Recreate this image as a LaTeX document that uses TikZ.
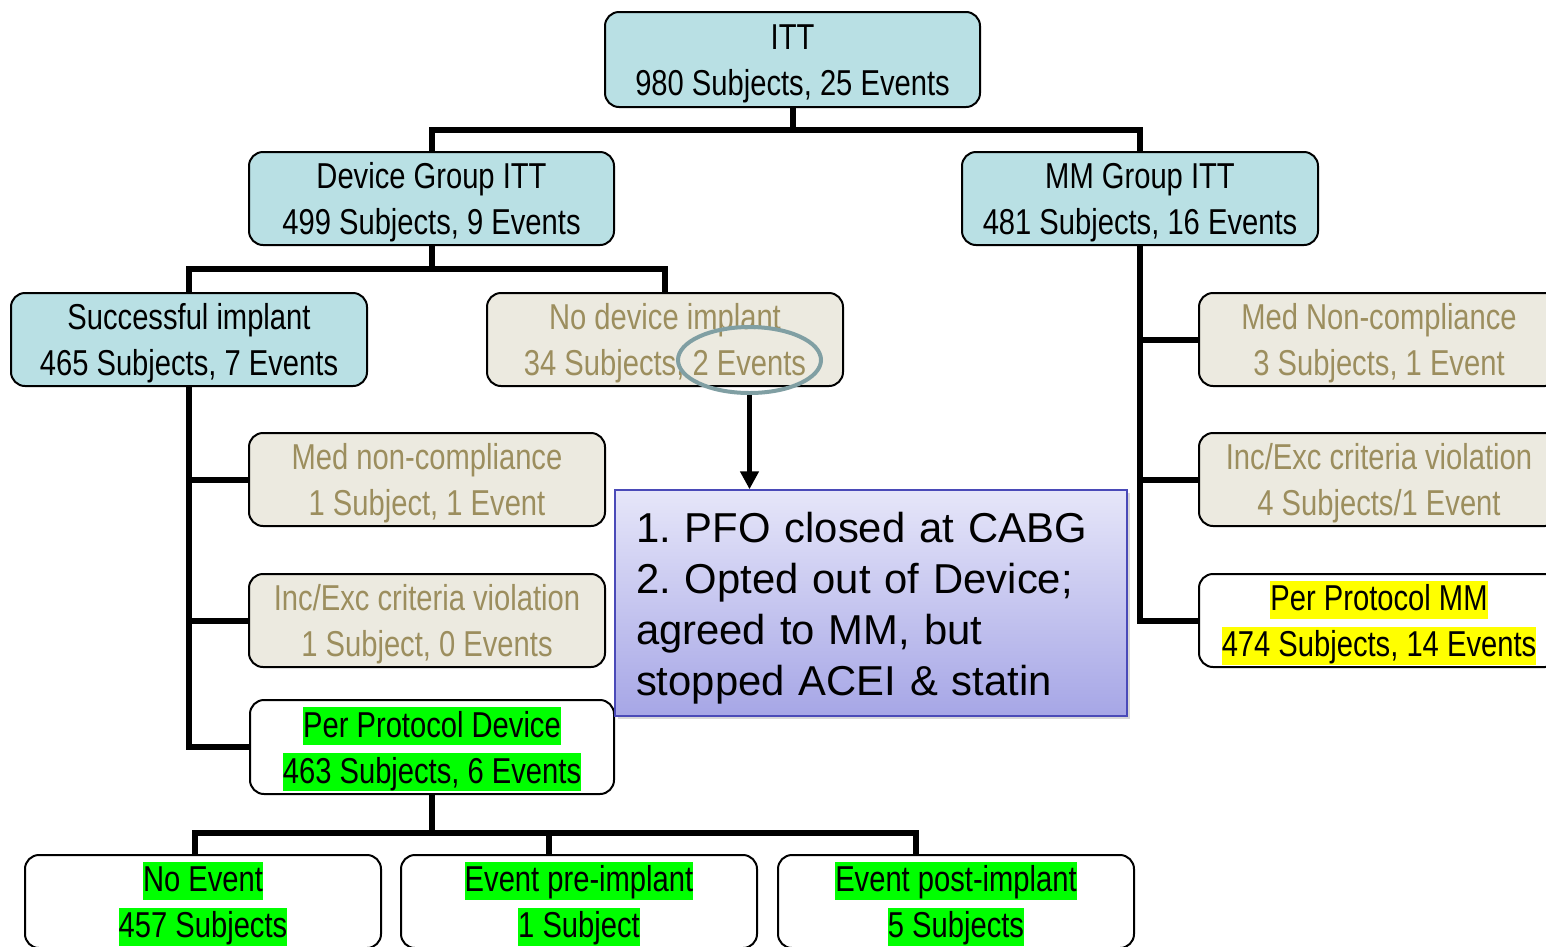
\documentclass[tikz,border=0pt]{standalone}
\usepackage{fontspec}
\setmainfont{Liberation Sans}
\newfontfamily\nar[FakeStretch=0.81]{Liberation Sans}
\usetikzlibrary{shapes.geometric,arrows.meta,shadows}
\definecolor{tealc}{HTML}{B9E0E4}
\definecolor{beigec}{HTML}{ECEAE0}
\definecolor{olivec}{HTML}{9C8E5E}
\definecolor{ellc}{HTML}{809FA3}
\definecolor{bluebd}{HTML}{4A4AB8}
\definecolor{bluetop}{HTML}{E6E6F9}
\definecolor{bluebot}{HTML}{A6A6E6}
\definecolor{hlgreen}{HTML}{00FF00}
\definecolor{hlyellow}{HTML}{FFFF00}
\newcommand\st{\rule[-8pt]{0pt}{42pt}}
\newcommand\hlg[1]{\st{\fboxsep=0pt\colorbox{hlgreen}{\rule[-8pt]{0pt}{38pt}#1}}}
\newcommand\hly[1]{\st{\fboxsep=0pt\colorbox{hlyellow}{\rule[-8pt]{0pt}{38pt}#1}}}
\tikzset{
  boxbase/.style={draw=black, line width=2pt, rounded corners=14pt, inner sep=0pt,
    align=center, font=\nar\fontsize{36}{46}\selectfont,
    minimum width=356pt, minimum height=93pt},
  tealbox/.style={boxbase, fill=tealc},
  beigebox/.style={boxbase, fill=beigec, text=olivec},
  whitebox/.style={boxbase, fill=white},
  conn/.style={draw=black, line width=6pt},
  arr/.style={draw=black, line width=5pt, -{Triangle[length=18pt,width=18pt]}},
}
\begin{document}
\begin{tikzpicture}[x=1pt,y=-1pt]
\clip (0,0) rectangle (1546,946);
\fill[white] (0,0) rectangle (1546,946);

% boxes
\node[tealbox, minimum width=375pt, minimum height=95pt] (itt) at (792.5,59.5) {\st ITT\\\st 980 Subjects, 25 Events};
\node[tealbox, minimum width=365pt] (dev) at (431.5,198.5) {\st Device Group ITT\\\st 499 Subjects, 9 Events};
\node[tealbox] (mm) at (1140,198.5) {\st MM Group ITT\\\st 481 Subjects, 16 Events};
\node[tealbox] (succ) at (189,339.5) {\st Successful implant\\\st 465 Subjects, 7 Events};
\node[beigebox] (nodev) at (665,339.5) {\st No device implant\\\st 34 Subjects, 2 Events};
\node[beigebox] (medl) at (427,479.5) {\st Med non-compliance\\\st 1 Subject, 1 Event};
\node[beigebox] (incl) at (427,620.5) {\st Inc/Exc criteria violation\\\st 1 Subject, 0 Events};
\node[whitebox, minimum width=364pt, minimum height=94pt] (ppd) at (432,747) {\hlg{Per Protocol Device}\\\hlg{463 Subjects, 6 Events}};
\node[beigebox, minimum width=360pt] (medr) at (1379,339.5) {\st Med Non-compliance\\\st 3 Subjects, 1 Event};
\node[beigebox, minimum width=360pt] (incr) at (1379,479.5) {\st Inc/Exc criteria violation\\\st 4 Subjects/1 Event};
\node[whitebox, minimum width=360pt] (ppmm) at (1379,620.5) {\hly{Per Protocol MM}\\\hly{474 Subjects, 14 Events}};
\node[whitebox] (noev) at (203,901.5) {\hlg{No Event}\\\hlg{457 Subjects}};
\node[whitebox] (preimp) at (579,901.5) {\hlg{Event pre-implant}\\\hlg{1 Subject}};
\node[whitebox] (postimp) at (956,901.5) {\hlg{Event post-implant}\\\hlg{5 Subjects}};

% tree connectors
\draw[conn] (itt.south) -- ++(0,22) -| (dev.north);
\draw[conn] (itt.south) -- ++(0,22) -| (mm.north);
\draw[conn] (dev.south) -- ++(0,23) -| (succ.north);
\draw[conn] (dev.south) -- ++(0,23) -| (nodev.north);
\draw[conn] (succ.south) |- (medl.west);
\draw[conn] (succ.south) |- (incl.west);
\draw[conn] (succ.south) |- (ppd.west);
\draw[conn] (mm.south) |- (medr.west);
\draw[conn] (mm.south) |- (incr.west);
\draw[conn] (mm.south) |- (ppmm.west);
\draw[conn] (ppd.south) -- ++(0,38) -| ([xshift=-8pt]noev.north);
\draw[conn] (ppd.south) -- ++(0,38) -| ([xshift=-30pt]preimp.north);
\draw[conn] (ppd.south) -- ++(0,38) -| ([xshift=-40pt]postimp.north);

% ellipse and note
\node[draw=ellc, ellipse, line width=4pt, minimum width=143pt, minimum height=66pt, inner sep=0pt] (ell) at (749.5,360) {};
\node[draw=bluebd, line width=1.5pt, top color=bluetop, bottom color=bluebot,
      drop shadow={opacity=0.3, shadow xshift=3pt, shadow yshift=-3pt},
      minimum width=512pt, minimum height=226pt, text width=470pt, inner xsep=21pt, inner ysep=0pt,
      align=left, font=\frenchspacing\fontsize{41.8}{51}\selectfont] (note) at (871,603)
  {\rule{0pt}{40pt}1. PFO closed at CABG\\2. Opted out of Device;\\agreed to MM, but\\stopped ACEI \& statin};
\draw[arr] (ell.south) -- (ell.south |- note.north);
\end{tikzpicture}
\end{document}
